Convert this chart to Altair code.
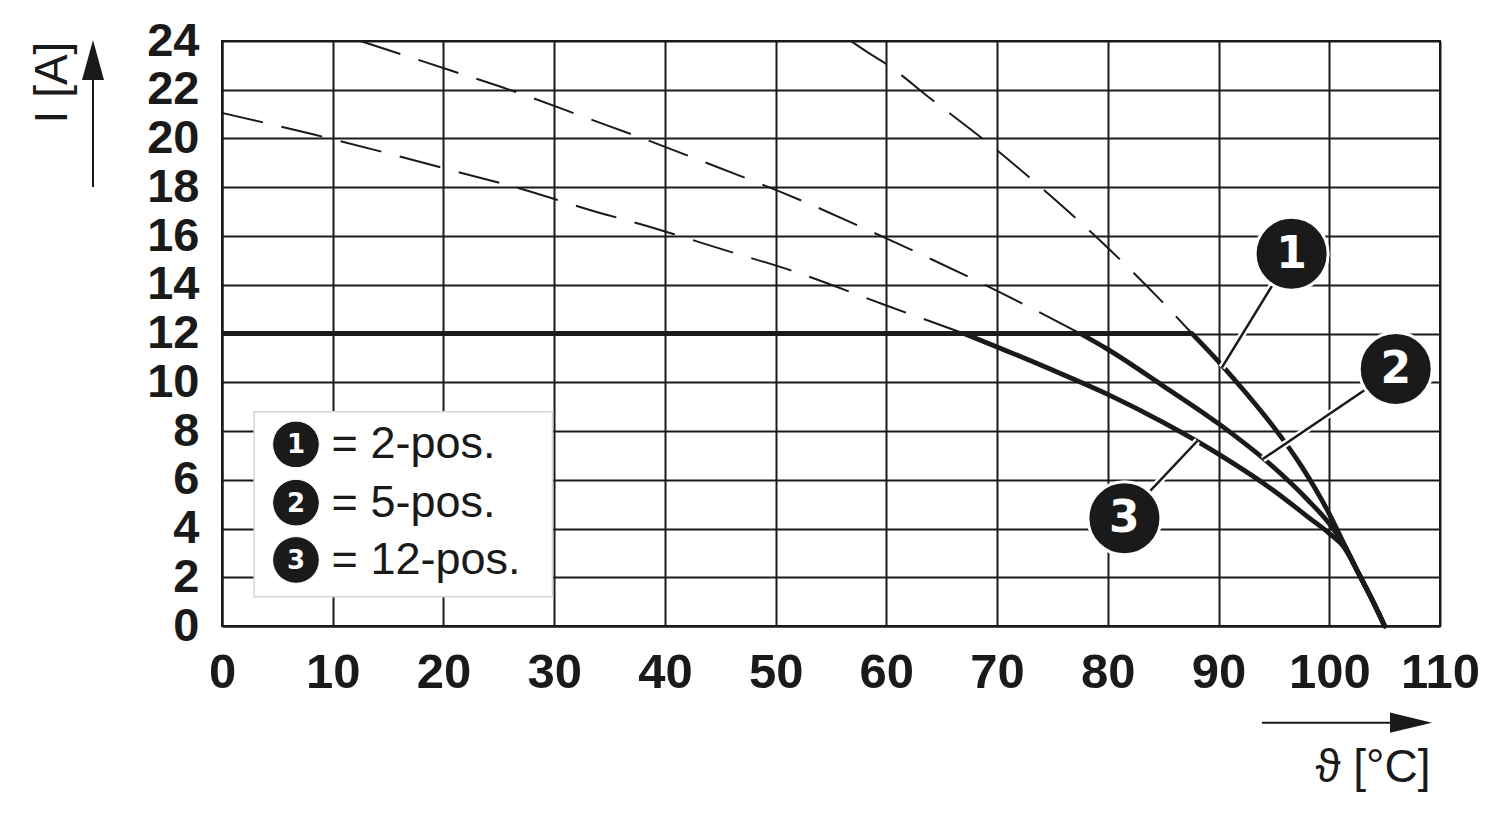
import altair as alt
import pandas as pd

# ---------------- data ----------------
x_ticks = [0, 10, 20, 30, 40, 50, 60, 70, 80, 90, 100, 110]
y_ticks = [0, 2, 4, 6, 8, 10, 12, 14, 16, 18, 20, 22, 24]

# curve 1 = 2-pos.
c1_dash_x = [56.8, 58.6, 60, 64.1, 69.5, 74.7, 79.8, 84.7, 87.6]
c1_dash_y = [24.0, 23.45, 23.05, 21.6, 19.7, 17.7, 15.6, 13.4, 12.0]
c1_solid_x = [87.6, 90, 92.5, 95, 97.5, 100, 101.3, 102.6, 103.9, 105]
c1_solid_y = [12.0, 10.85, 9.55, 8.15, 6.55, 4.6, 3.4, 2.2, 1.05, 0.0]

# curve 2 = 5-pos.
c2_dash_x = [12.5, 20.6, 26.6, 32.6, 38.6, 44.6, 50.5, 60, 70, 77.5]
c2_dash_y = [24.0, 22.8, 21.9, 20.9, 19.9, 18.85, 17.8, 15.9, 13.75, 12.0]
c2_solid_x = [77.5, 80, 85, 90, 95, 98, 100, 101.3, 102.6, 103.9, 105]
c2_solid_y = [12.0, 11.35, 9.85, 8.3, 6.5, 5.2, 4.2, 3.35, 2.2, 1.05, 0.0]

# curve 3 = 12-pos.
c3_dash_x = [0, 8.4, 14.5, 20.7, 26.9, 33.0, 39.2, 45.2, 51.3, 60, 67]
c3_dash_y = [21.05, 20.15, 19.45, 18.7, 17.95, 17.1, 16.3, 15.45, 14.6, 13.15, 12.0]
c3_solid_x = [67, 70, 75, 80, 85, 90, 95, 98, 100, 101.3, 102.6, 103.9, 105]
c3_solid_y = [12.0, 11.45, 10.5, 9.5, 8.35, 7.05, 5.55, 4.5, 3.8, 3.25, 2.2, 1.05, 0.0]

# common 12 A plateau
plateau_x = [0, 87.6]
plateau_y = [12, 12]

series_numbers = ["1", "2", "3"]
series_labels = ["= 2-pos.", "= 5-pos.", "= 12-pos."]

# ---------------- annotation placement (data units) ----------------
callout_cx = [96.6, 106.0, 81.5]
callout_cy = [15.27, 10.54, 4.42]
callout_px = [90.3, 94.0, 88.1]
callout_py = [10.6, 6.85, 7.6]

legend_box = {"x0": [2.9], "x1": [29.85], "y0": [8.79], "y1": [1.2]}
legend_cx = [6.68, 6.68, 6.68]
legend_cy = [7.45, 5.06, 2.71]
legend_tx = [9.9, 9.9, 9.9]

INK = "#1a1a1a"

# ---------------- tables ----------------
def line_table(parts):
    rows = []
    for name, xs, ys in parts:
        for i, (a, b) in enumerate(zip(xs, ys)):
            rows.append({"series": name, "x": a, "y": b, "i": i})
    return pd.DataFrame(rows)

dash_df = line_table([("1", c1_dash_x, c1_dash_y), ("2", c2_dash_x, c2_dash_y), ("3", c3_dash_x, c3_dash_y)])
solid_df = line_table([("1", c1_solid_x, c1_solid_y), ("2", c2_solid_x, c2_solid_y), ("3", c3_solid_x, c3_solid_y)])
plateau_df = line_table([("p", plateau_x, plateau_y)])

callout_df = pd.DataFrame({"num": series_numbers, "cx": callout_cx, "cy": callout_cy,
                           "px": callout_px, "py": callout_py})
box_df = pd.DataFrame(legend_box)
legend_df = pd.DataFrame({"num": series_numbers, "label": series_labels,
                          "cx": legend_cx, "cy": legend_cy, "tx": legend_tx})
one = pd.DataFrame({"a": [0]})

XS = alt.Scale(domain=[0, 110], nice=False, zero=False)
YS = alt.Scale(domain=[0, 24], nice=False, zero=False)

x_axis = alt.Axis(values=x_ticks, title="ϑ [°C]", grid=True, ticks=False,
                  labelFontSize=49, labelPadding=22, labelFlush=False, labelOverlap=False,
                  titleX=1208, titleY=141, titleAlign="right", titleBaseline="middle",
                  titleFontSize=46, titleFontWeight="normal")
y_axis = alt.Axis(values=y_ticks, title="I [A]", grid=True, ticks=False,
                  labelFontSize=47, labelPadding=23, labelFlush=False, labelOverlap=False,
                  titleX=-170, titleY=41, titleAngle=270, titleAlign="center",
                  titleBaseline="middle", titleFontSize=46, titleFontWeight="normal")


def X(field):
    return alt.X(field, scale=XS, axis=x_axis)


def Y(field):
    return alt.Y(field, scale=YS, axis=y_axis)


dashed = alt.Chart(dash_df).mark_line(
    color=INK, strokeWidth=2, strokeDash=[42, 19], interpolate="monotone"
).encode(x=X("x:Q"), y=Y("y:Q"), detail="series:N", order="i:Q")

solid = alt.Chart(solid_df).mark_line(
    color=INK, strokeWidth=4.8, interpolate="monotone", strokeCap="round", strokeJoin="round"
).encode(x=X("x:Q"), y=Y("y:Q"), detail="series:N", order="i:Q")

plateau = alt.Chart(plateau_df).mark_line(color=INK, strokeWidth=5).encode(
    x=X("x:Q"), y=Y("y:Q"), order="i:Q"
)

box = alt.Chart(box_df).mark_rect(fill="white", stroke="#d6d6d6", strokeWidth=1.5).encode(
    x=X("x0:Q"), x2="x1:Q", y=Y("y0:Q"), y2="y1:Q"
)

halo = alt.Chart(callout_df).mark_rule(color="white", strokeWidth=7).encode(
    x=X("cx:Q"), y=Y("cy:Q"), x2="px:Q", y2="py:Q"
)
pointer = alt.Chart(callout_df).mark_rule(color=INK, strokeWidth=2.5).encode(
    x=X("cx:Q"), y=Y("cy:Q"), x2="px:Q", y2="py:Q"
)
bubbles = alt.Chart(callout_df).mark_point(
    shape="circle", filled=True, fill=INK, stroke="white", strokeWidth=3, size=5330, opacity=1
).encode(x=X("cx:Q"), y=Y("cy:Q"))
bubble_txt = alt.Chart(callout_df).mark_text(
    color="white", font="DejaVu Sans", fontWeight="bold", fontSize=44,
    align="center", baseline="middle", dy=1
).encode(x=X("cx:Q"), y=Y("cy:Q"), text="num:N")

leg_dots = alt.Chart(legend_df).mark_point(
    shape="circle", filled=True, fill=INK, stroke="white", strokeWidth=1, size=2180, opacity=1
).encode(x=X("cx:Q"), y=Y("cy:Q"))
leg_nums = alt.Chart(legend_df).mark_text(
    color="white", font="DejaVu Sans", fontWeight="bold", fontSize=26,
    align="center", baseline="middle", dy=1
).encode(x=X("cx:Q"), y=Y("cy:Q"), text="num:N")
leg_txt = alt.Chart(legend_df).mark_text(
    color=INK, font="Liberation Sans", fontSize=45, align="left", baseline="middle"
).encode(x=X("tx:Q"), y=Y("cy:Q"), text="label:N")

# axis arrows (decoration, pixel positions relative to the plot area)
up_line = alt.Chart(one).mark_rule(color=INK, strokeWidth=2).encode(
    x=alt.value(-129), y=alt.value(146), y2=alt.value(36))
up_head = alt.Chart(one).mark_point(
    shape="M0,-1L0.55,1L-0.55,1Z", filled=True, fill=INK, strokeWidth=0, size=1600, opacity=1
).encode(x=alt.value(-129), y=alt.value(19))
right_line = alt.Chart(one).mark_rule(color=INK, strokeWidth=2).encode(
    x=alt.value(1040), x2=alt.value(1175), y=alt.value(681.7))
right_head = alt.Chart(one).mark_point(
    shape="M1,0L-1,-0.48L-1,0.48Z", filled=True, fill=INK, strokeWidth=0, size=1764, opacity=1
).encode(x=alt.value(1189), y=alt.value(681.7))

chart = alt.layer(
    dashed, box, solid, plateau, halo, pointer, bubbles, bubble_txt,
    leg_dots, leg_nums, leg_txt, up_line, up_head, right_line, right_head
).properties(
    width=1218, height=585,
    autosize=alt.AutoSizeParams(type="none"),
    padding={"left": 214, "top": 33, "right": 50, "bottom": 180},
    background="white",
).configure_axis(
    gridColor=INK, gridWidth=2, gridOpacity=1,
    domainColor=INK, domainWidth=2,
    labelColor=INK, titleColor=INK,
    labelFont="Liberation Sans", titleFont="Liberation Sans", labelFontWeight="bold",
).configure_view(stroke=INK, strokeWidth=2)

chart.save("out.html", embed_options={"renderer": "svg", "actions": False})
